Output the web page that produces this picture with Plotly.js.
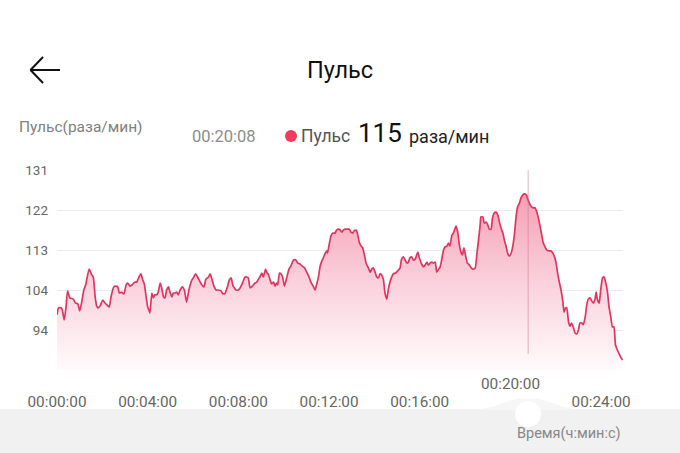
<!DOCTYPE html>
<html>
<head>
<meta charset="utf-8">
<script src="https://cdn.plot.ly/plotly-3.0.1.min.js"></script>
<style>html,body{margin:0;padding:0;background:#fff;}#chart{width:680px;height:453px;}</style>
</head>
<body>
<div id="chart"></div>
<script>
// ---- data (time in seconds from start, pulse in beats/min) ----
const timeSec = [
 0,4,11,14,19,24,28,34,43,49,55,60,65,71,76,85,92,96,101,105,109,115,121,127,133,138,143,150,156,161,165,171,177,183,187,193,199,205,211,217,222,227,231,236,240,244,
 246,251,255,259,264,268,273,277,282,286,290,295,299,304,308,312,317,321,326,332,337,343,349,357,361,367,372,379,383,389,394,401,405,409,416,421,427,434,439,445,451,456,461,465,469,474,480,486,492,496,
 498,502,506,511,515,520,524,529,533,537,542,546,549,552,556,559,564,568,573,577,581,584,589,593,597,602,608,614,619,626,632,637,643,649,655,661,667,672,679,683,687,692,696,701,705,709,714,716,720,725,730,736,740,745,749,
 754,758,762,769,774,778,783,786,792,795,800,805,809,813,818,824,829,833,837,842,846,851,855,859,864,868,873,877,881,886,890,896,904,908,912,917,921,926,930,934,939,943,948,952,955,959,964,970,974,979,983,987,992,996,1001,
 1005,1009,1014,1018,1023,1027,1032,1036,1040,1045,1049,1054,1056,1061,1065,1069,1073,1077,1082,1086,1092,1096,1102,1107,1111,1115,1120,1122,1127,1131,1136,1140,1144,1149,1152,1157,1162,1167,1171,1175,1180,1184,1189,1193,1197,1202,1206,1211,1215,1219,1224,1228,1233,1237,1242,1246,1250,
 1256,1261,1265,1270,1274,1279,1283,1287,1292,1296,1301,1307,1312,1316,1321,1325,1330,1334,1339,1342,1346,1349,1354,1358,1362,1367,1371,1376,1380,1384,1389,1393,1398,1402,1406,1411,1415,1420,1424,1427,1430,1435,1439,1444,1448,1452,1457,1461,1466,1470,1474,1478,1483,1489,1493,1497
];
const pulseBpm = [
 97.7,99.3,99.3,98.8,96.5,99.5,103.2,101.6,101.3,100.4,100.2,98.6,100.4,103.4,104.6,108.2,106.9,106.4,101.8,99.7,99.3,99.9,101.1,100.4,99.9,99.5,101.8,104.1,104.3,104.1,102.7,102.9,102.5,104.6,105.0,104.3,104.6,105.2,105.2,106.4,107.1,105.7,104.8,101.8,99.5,98.6,
 98.1,102.7,101.6,102.3,102.3,102.9,105.0,103.9,101.8,101.6,103.4,104.1,102.9,101.8,102.7,102.7,102.9,102.3,103.4,104.1,103.4,100.6,103.4,105.7,106.2,107.1,106.4,105.2,104.6,104.1,105.9,106.4,107.1,106.2,104.1,103.4,103.4,103.2,102.5,102.7,104.1,105.7,106.2,104.6,103.9,103.4,103.4,104.1,105.2,106.2,
 106.4,106.4,106.2,103.9,104.1,104.6,105.0,105.2,105.9,106.4,107.3,106.4,107.3,108.2,107.3,107.1,105.7,104.8,105.2,104.3,105.0,104.6,107.3,107.1,106.4,104.3,106.2,108.2,108.9,110.3,110.3,109.6,109.4,108.9,108.5,107.5,106.4,105.2,104.1,103.4,104.6,106.4,108.7,110.1,110.8,111.7,112.4,111.9,113.7,115.8,116.5,116.5,117.2,117.4,117.2,
 116.7,117.2,117.4,117.4,117.4,116.7,116.5,117.0,117.2,116.5,114.4,113.5,113.1,111.7,109.6,108.5,107.5,108.2,108.5,107.5,106.4,106.2,107.1,106.9,105.7,102.7,101.3,103.6,105.2,106.4,107.1,107.3,108.0,108.5,110.5,111.0,110.3,109.6,109.8,110.8,111.0,110.3,110.5,111.5,112.1,110.8,109.6,108.7,109.1,109.8,109.1,109.6,109.8,109.6,109.8,
 107.5,108.0,108.7,110.3,112.6,113.3,113.5,114.2,113.5,116.0,116.5,117.7,118.1,116.5,113.7,112.1,111.5,113.1,111.0,109.6,109.1,108.5,108.2,108.5,111.5,114.4,118.4,120.2,120.2,118.8,119.0,118.4,117.4,117.4,119.7,121.1,121.3,120.6,119.0,117.7,116.5,114.9,113.3,111.7,111.2,111.9,113.3,116.5,120.2,122.5,123.4,124.6,125.3,125.5,125.3,124.3,123.4,
 122.5,122.3,122.3,121.3,120.0,117.9,116.0,114.2,113.3,112.6,112.4,112.4,111.9,111.2,109.6,107.3,105.0,103.4,100.6,98.3,99.3,99.3,96.0,95.1,95.8,94.7,93.5,93.3,94.2,95.8,95.8,95.4,97.2,99.9,101.3,101.6,100.9,100.4,101.3,102.9,101.3,100.4,103.4,106.2,106.4,105.2,102.9,99.5,97.0,94.9,94.9,90.8,89.6,88.5,87.8,87.3
];
const xTickSec = [0, 240, 480, 720, 960, 1200, 1440];
const xTickLabels = ['00:00:00', '00:04:00', '00:08:00', '00:12:00', '00:16:00', '00:20:00', '00:24:00'];
const yTickVals = [85, 94.2, 103.4, 112.6, 121.8, 131];
const yTickLabels = ['', '94', '104', '113', '122', '131'];
const xRangeSec = [0, 1498];
const yRangeBpm = [85, 131];
const cursorSec = 1247;
const selectedTime = '00:20:08';
const selectedValue = 115;

// ---- layout helpers (pixel -> paper) ----
const L = 57, R = 57, T = 170, B = 83, W = 680, H = 453;
const PW = W - L - R, PH = H - T - B;
const px = x => (x - L) / PW;
const py = y => (H - B - y) / PH;
const FONT = 'Roboto, "Noto Sans", "Liberation Sans", sans-serif';

const raisedIdx = 5;
const axisTickText = xTickLabels.map((s, i) => i === raisedIdx ? '' : s);

const trace = {
  x: timeSec, y: pulseBpm, type: 'scatter', mode: 'lines',
  line: {color: '#e3345e', width: 1.7, shape: 'spline', smoothing: 0.5},
  fill: 'tozeroy',
  fillgradient: {type: 'vertical', start: 85, stop: 127,
    colorscale: [[0, 'rgb(255,251,252)'], [0.5, 'rgb(250,207,218)'], [1, 'rgb(244,155,178)']]},
  hoverinfo: 'skip'
};

const annotations = [
  {text: 'Пульс(раза/мин)', x: px(17), y: py(127), xanchor: 'left', yanchor: 'middle', font: {size: 15.5, color: '#808080'}},
  {text: selectedTime, x: px(190), y: py(136), xanchor: 'left', yanchor: 'middle', font: {size: 16.5, color: '#8c8c8c'}},
  {text: 'Пульс', x: px(299), y: py(136), xanchor: 'left', yanchor: 'middle', font: {size: 17.5, color: '#555'}},
  {text: String(selectedValue), x: px(356), y: py(133), xanchor: 'left', yanchor: 'middle', font: {size: 26, color: '#111'}},
  {text: 'раза/мин', x: px(407), y: py(136), xanchor: 'left', yanchor: 'middle', font: {size: 18, color: '#222'}},
  {text: xTickLabels[raisedIdx], x: xTickSec[raisedIdx], xref: 'x', y: py(384), xanchor: 'center', yanchor: 'middle', font: {size: 15.3, color: '#666'}},
  {text: 'Время(ч:мин:с)', x: px(623), y: py(433), xanchor: 'right', yanchor: 'middle', font: {size: 14.5, color: '#888'}}
].map(a => Object.assign({xref: 'paper', yref: 'paper', showarrow: false}, a));

const shapes = [
  // bottom panel
  {type: 'rect', xref: 'paper', yref: 'paper', x0: px(-5), x1: px(690), y0: py(409), y1: py(460), fillcolor: '#f1f1f1', line: {width: 0}, layer: 'below'},
  {type: 'path', xref: 'paper', yref: 'paper', layer: 'below',
   path: `M ${px(470)},${py(409.5)} C ${px(500)},${py(409.5)} ${px(505)},${py(398)} ${px(528)},${py(398)} C ${px(551)},${py(398)} ${px(556)},${py(409.5)} ${px(586)},${py(409.5)} Z`,
   fillcolor: '#f6f6f6', line: {width: 0}},
  {type: 'circle', xref: 'paper', yref: 'paper', x0: px(515), x1: px(541), y0: py(427), y1: py(401), fillcolor: '#ffffff', line: {width: 0}},
  // cursor line
  {type: 'line', xref: 'x', yref: 'paper', x0: cursorSec, x1: cursorSec, y0: 0.08, y1: 1, line: {color: 'rgba(205,120,140,0.55)', width: 1}},
  // header dot
  {type: 'circle', xref: 'paper', yref: 'paper', x0: px(285), x1: px(297), y0: py(142), y1: py(130), fillcolor: '#f23a5c', line: {width: 0}},
  // back arrow
  {type: 'line', xref: 'paper', yref: 'paper', x0: px(30), y0: py(70), x1: px(60), y1: py(70), line: {color: '#111', width: 2}},
  {type: 'line', xref: 'paper', yref: 'paper', x0: px(30.5), y0: py(70), x1: px(43), y1: py(57), line: {color: '#111', width: 2}},
  {type: 'line', xref: 'paper', yref: 'paper', x0: px(30.5), y0: py(70), x1: px(43), y1: py(83), line: {color: '#111', width: 2}}
];

const layout = {
  width: W, height: H,
  margin: {l: L, r: R, t: T, b: B, pad: 0},
  paper_bgcolor: '#ffffff', plot_bgcolor: '#ffffff',
  font: {family: FONT, color: '#666'},
  showlegend: false,
  hovermode: false,
  title: {text: 'Пульс', x: 0.5, xref: 'container', xanchor: 'center', y: (H - 70) / H, yref: 'container', yanchor: 'middle', font: {size: 23.5, color: '#111', family: FONT}},
  xaxis: {range: xRangeSec, tickmode: 'array', tickvals: xTickSec, ticktext: axisTickText,
    showgrid: false, zeroline: false, showline: false, ticks: '', ticklabelstandoff: 21,
    tickfont: {size: 15.3, color: '#666', family: FONT}, fixedrange: true},
  yaxis: {range: yRangeBpm, tickmode: 'array', tickvals: yTickVals, ticktext: yTickLabels,
    showgrid: true, gridcolor: '#ebebeb', gridwidth: 1, zeroline: false, showline: false, ticks: '',
    ticklabelstandoff: 8, tickfont: {size: 13.5, color: '#666', family: FONT}, fixedrange: true},
  annotations: annotations,
  shapes: shapes
};

Plotly.newPlot('chart', [trace], layout, {displayModeBar: false, staticPlot: true});
</script>
</body>
</html>
